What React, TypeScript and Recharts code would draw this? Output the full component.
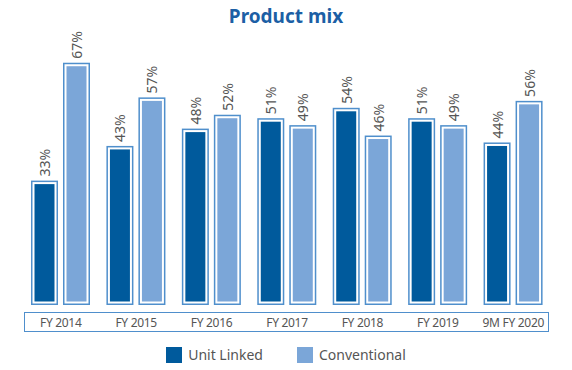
import { BarChart, Bar, XAxis, YAxis, LabelList } from 'recharts';

const categories = ['FY 2014', 'FY 2015', 'FY 2016', 'FY 2017', 'FY 2018', 'FY 2019', '9M FY 2020'];
const unitLinked = [33, 43, 48, 51, 54, 51, 44];
const conventional = [67, 57, 52, 49, 46, 49, 56];

const DARK = '#005a9c';
const LIGHT = '#7ba6d8';
const EDGE = '#4f8fcc';
const TEXT = '#555555';
const FONT = '"Noto Sans", "Open Sans", sans-serif';

const data = categories.map((c, i) => ({ name: c, ul: unitLinked[i], conv: conventional[i] }));

// boxed bar: thin blue frame, white gap, then the fill; frame drops a bit below zero
function BoxBar(fill: string) {
  // eslint-disable-next-line @typescript-eslint/no-explicit-any
  return (props: any) => {
    const { x, y, width, height } = props;
    const h = height + 10;
    return (
      <g>
        <rect x={x + 0.75} y={y + 0.75} width={width - 1.5} height={h - 1.5} fill="#fff" stroke={EDGE} strokeWidth={1.5} />
        <rect x={x + 3.5} y={y + 3.5} width={width - 7} height={h - 7} fill={fill} />
      </g>
    );
  };
}

// eslint-disable-next-line @typescript-eslint/no-explicit-any
function VLabel(props: any) {
  const { x, y, width, value } = props;
  const cx = x + width / 2;
  const ty = y - 4;
  return (
    <text x={cx} y={ty} transform={`rotate(-90 ${cx} ${ty})`} textAnchor="start" dominantBaseline="central"
      fontSize={14} fill={TEXT} fontFamily={FONT}>
      {value}%
    </text>
  );
}

// eslint-disable-next-line @typescript-eslint/no-explicit-any
function Tick({ x, y, payload }: any) {
  return (
    <text x={x} y={y} dy={-2} dominantBaseline="hanging" textAnchor="middle" fontSize={12} fill={TEXT} fontFamily={FONT} letterSpacing={-0.3}>
      {payload.value}
    </text>
  );
}

function LegendBox() {
  const items = [
    { label: 'Unit Linked', color: DARK },
    { label: 'Conventional', color: LIGHT },
  ];
  return (
    <div style={{ position: 'absolute', top: 345, left: 0, width: 572, display: 'flex', justifyContent: 'center', gap: 34,
      fontFamily: FONT, fontSize: 14, color: TEXT }}>
      {items.map(it => (
        <div key={it.label} style={{ display: 'flex', alignItems: 'center', gap: 6 }}>
          <span style={{ width: 16, height: 16, background: it.color, display: 'inline-block' }} />
          <span>{it.label}</span>
        </div>
      ))}
    </div>
  );
}

export default function App() {
  return (
    <div style={{ position: 'absolute', left: 0, top: 0, width: 572, height: 370, background: '#fff' }}>
      <div style={{ position: 'absolute', top: 3, width: 572, textAlign: 'center', fontFamily: FONT, fontWeight: 700,
        fontSize: 19, color: '#1c5fa5' }}>
        Product mix
      </div>
      <div style={{ position: 'absolute', left: 24, top: 312, width: 523, height: 18, border: `1.5px solid ${EDGE}` }} />
      <BarChart width={572} height={370} data={data} margin={{ top: 35, right: 21, left: 23, bottom: 45 }}
        barSize={27} barGap={5} style={{ position: 'absolute', left: 0, top: 0 }}>
        <XAxis dataKey="name" axisLine={false} tickLine={false} tick={<Tick />} interval={0} height={30} tickMargin={18} />
        <YAxis hide domain={[0, 75]} />
        <Bar dataKey="ul" name="Unit Linked" fill={DARK} shape={BoxBar(DARK)} isAnimationActive={false}>
          <LabelList dataKey="ul" content={<VLabel />} />
        </Bar>
        <Bar dataKey="conv" name="Conventional" fill={LIGHT} shape={BoxBar(LIGHT)} isAnimationActive={false}>
          <LabelList dataKey="conv" content={<VLabel />} />
        </Bar>
      </BarChart>
      <LegendBox />
    </div>
  );
}
